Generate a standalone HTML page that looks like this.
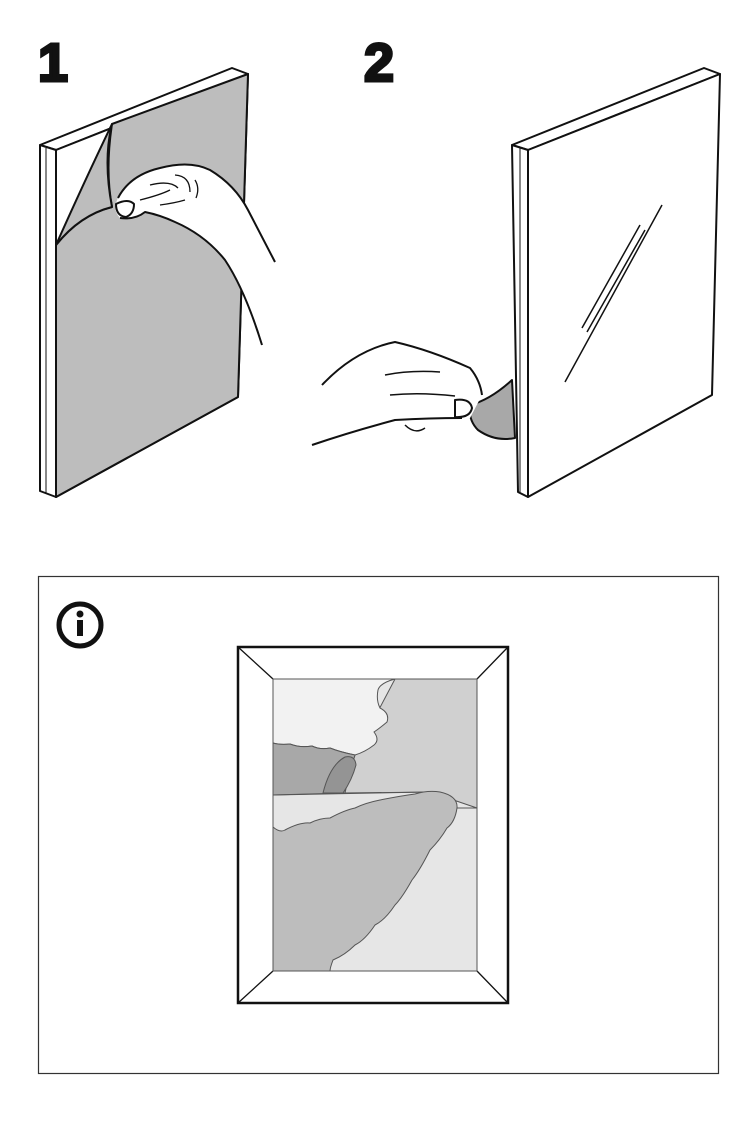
<!DOCTYPE html>
<html><head><meta charset="utf-8"><style>
html,body{margin:0;padding:0;background:#fff;}
svg{display:block;}
</style></head><body>
<svg width="756" height="1134" viewBox="0 0 756 1134" xmlns="http://www.w3.org/2000/svg" font-family="Liberation Sans, sans-serif">
<rect width="756" height="1134" fill="#fff"/>
<!-- numbers -->
<text x="38" y="81" font-size="54" font-weight="bold" fill="#111" stroke="#111" stroke-width="3">1</text>
<text x="364" y="81" font-size="54" font-weight="bold" fill="#111" stroke="#111" stroke-width="3">2</text>

<g stroke="#111" stroke-width="2" stroke-linejoin="round" fill="none">
<!-- Panel 1 -->
<polygon points="40,145 232,68 248,74 56,150" fill="#fff"/>
<polygon points="40,145 56,150 56,497 40,491" fill="#fff"/>
<line x1="46" y1="148" x2="46" y2="493" stroke-width="1"/>
<polygon points="56,150 248,74 238,397 56,497" fill="#fff"/>
<!-- gray backing -->
<path d="M112,124 L248,74 L238,397 L56,497 L56,245 Q80,215 112,207 Q105,170 112,124 Z" fill="#bdbdbd"/>
<!-- peeled flap -->
<path d="M112,124 Q103,160 112,207 Q80,215 56,245 Q85,180 112,124 Z" fill="#bdbdbd"/>
<!-- hand 1 fill -->
<path d="M118,198 Q130,175 160,168 Q190,160 210,170 Q235,185 248,210 L275,262 L262,345 Q245,290 225,260 Q205,235 175,222 Q160,215 145,212 Q135,220 120,218 Q112,210 118,198 Z" fill="#fff" stroke="none"/>
<path d="M118,198 Q130,175 160,168 Q190,160 210,170 Q235,185 248,210 L275,262"/>
<path d="M120,218 Q135,220 145,212 Q160,215 175,222 Q205,235 225,260 Q245,290 262,345"/>
<path d="M116,204 Q116,216 126,217 Q134,214 134,204 Q128,198 116,204 Z" fill="#fff"/>
<path d="M140,200 Q160,195 170,190 M150,185 Q170,180 178,188 M175,175 Q190,176 190,192 M195,180 Q200,188 196,198 M160,205 Q175,203 185,200" stroke-width="1.3"/>

<!-- Panel 2 -->
<polygon points="512,145 704,68 720,74 528,150" fill="#fff"/>
<polygon points="512,145 528,150 528,497 518,492" fill="#fff"/>
<polygon points="528,150 720,74 712,395 528,497" fill="#fff"/>
<line x1="520" y1="148" x2="520" y2="493" stroke-width="1"/>
<!-- glare -->
<line x1="565" y1="382" x2="662" y2="205" stroke-width="1.5"/>
<line x1="582" y1="328" x2="640" y2="225" stroke-width="1.5"/>
<line x1="587" y1="332" x2="645" y2="230" stroke-width="1.5"/>
<!-- peel -->
<path d="M470,405 Q490,400 512,380 L515,438 Q495,442 478,430 Q468,420 470,405 Z" fill="#a8a8a8"/>
<!-- hand 2 -->
<path d="M322,385 Q355,350 395,342 Q430,350 470,368 Q480,380 482,395 L470,418 Q430,418 395,420 Q350,432 312,445 Z" fill="#fff" stroke="none"/>
<path d="M322,385 Q355,350 395,342 Q430,350 470,368 Q480,380 482,395"/>
<path d="M312,445 Q350,432 395,420 Q430,418 462,418"/>
<path d="M385,375 Q410,370 440,372 M390,395 Q420,392 455,396 M405,425 Q415,435 425,428" stroke-width="1.5"/>
<path d="M455,400 Q470,398 472,408 Q470,418 455,417 Z" fill="#fff"/>
</g>

<!-- info box -->
<rect x="38.5" y="576.5" width="680" height="497" fill="none" stroke="#333" stroke-width="1.2"/>
<circle cx="80" cy="625" r="21" fill="#fff" stroke="#111" stroke-width="5"/>
<circle cx="80" cy="614" r="3.5" fill="#111"/>
<rect x="77" y="620" width="6" height="16" fill="#111"/>

<!-- frame -->
<rect x="238" y="647" width="270" height="356" fill="#fff" stroke="#111" stroke-width="2.5"/>
<line x1="238" y1="647" x2="273" y2="679" stroke="#111" stroke-width="1.3"/>
<line x1="508" y1="647" x2="477" y2="679" stroke="#111" stroke-width="1.3"/>
<line x1="238" y1="1003" x2="273" y2="971" stroke="#111" stroke-width="1.3"/>
<line x1="508" y1="1003" x2="477" y2="971" stroke="#111" stroke-width="1.3"/>
<g stroke="#555" stroke-width="1">
<rect x="273" y="679" width="204" height="292" fill="#e6e6e6"/>
<path d="M395,679 L477,679 L477,808 L430,792 L343,793 L355,755 Z" fill="#d0d0d0"/>
<path d="M273,679 L395,679 Q380,683 378,690 Q376,700 380,708 Q390,713 387,722 Q380,728 374,732 Q380,740 374,745 Q365,752 355,755 Q340,752 330,748 Q320,750 312,746 Q300,748 290,744 Q280,745 273,743 Z" fill="#f2f2f2"/>
<path d="M273,743 Q280,745 290,744 Q300,748 312,746 Q320,750 330,748 Q340,752 355,755 Q350,770 345,793 L273,795 Z" fill="#a8a8a8"/>
<path d="M323,793 Q330,765 345,757 Q355,755 356,765 Q352,780 343,793 Z" fill="#949494"/>
<line x1="273" y1="795" x2="430" y2="792"/>
<line x1="457" y1="808" x2="477" y2="808"/>
<path d="M273,827 Q280,833 285,830 Q300,822 310,823 Q320,818 330,818 Q345,810 355,808 Q365,803 380,800 Q400,796 415,794 Q428,790 440,792 Q458,796 457,808 Q455,822 447,828 Q440,840 430,850 Q420,870 412,880 Q402,898 395,905 Q385,920 375,925 Q365,940 355,945 Q345,955 333,960 Q330,968 330,971 L273,971 Z" fill="#bdbdbd"/>
</g>
</svg>
</body></html>
